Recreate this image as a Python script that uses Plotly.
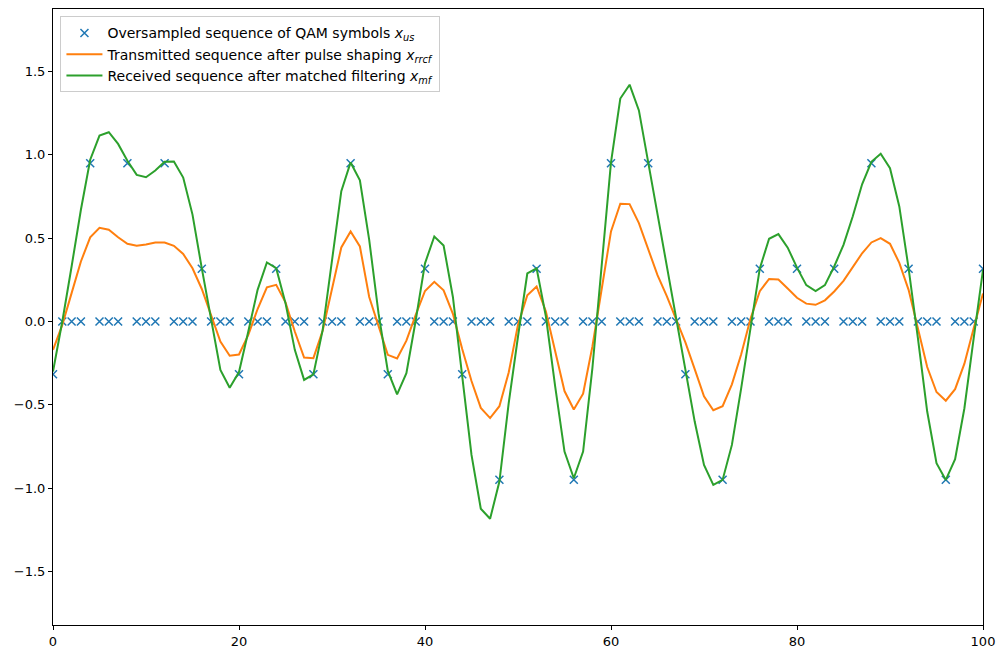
import plotly.graph_objects as go

n = list(range(101))

x_us = [-0.316, 0, 0, 0, 0.949, 0, 0, 0, 0.949, 0, 0, 0, 0.949, 0, 0, 0,
        0.316, 0, 0, 0, -0.316, 0, 0, 0, 0.316, 0, 0, 0, -0.316, 0, 0, 0,
        0.949, 0, 0, 0, -0.316, 0, 0, 0, 0.316, 0, 0, 0, -0.316, 0, 0, 0,
        -0.949, 0, 0, 0, 0.316, 0, 0, 0, -0.949, 0, 0, 0, 0.949, 0, 0, 0,
        0.949, 0, 0, 0, -0.316, 0, 0, 0, -0.949, 0, 0, 0, 0.316, 0, 0, 0,
        0.316, 0, 0, 0, 0.316, 0, 0, 0, 0.949, 0, 0, 0, 0.316, 0, 0, 0,
        -0.949, 0, 0, 0, 0.316]

x_rrcf = [-0.17, -0.02, 0.17, 0.36, 0.505, 0.562, 0.55, 0.505, 0.466, 0.454,
          0.462, 0.474, 0.474, 0.454, 0.405, 0.319, 0.195, 0.04, -0.12, -0.205,
          -0.198, -0.08, 0.075, 0.205, 0.22, 0.115, -0.06, -0.216, -0.22, -0.054,
          0.187, 0.444, 0.54, 0.45, 0.147, -0.034, -0.2, -0.222, -0.115, 0.04,
          0.183, 0.238, 0.187, 0.046, -0.165, -0.357, -0.518, -0.579, -0.508, -0.306,
          -0.02, 0.157, 0.21, 0.06, -0.17, -0.417, -0.528, -0.433, -0.15, 0.2,
          0.54, 0.706, 0.704, 0.59, 0.43, 0.278, 0.152, 0.01, -0.125, -0.286,
          -0.448, -0.532, -0.508, -0.377, -0.196, 0.016, 0.182, 0.255, 0.252, 0.198,
          0.142, 0.107, 0.10, 0.127, 0.18, 0.244, 0.329, 0.409, 0.474, 0.5,
          0.466, 0.352, 0.19, -0.045, -0.273, -0.423, -0.475, -0.406, -0.253, -0.04,
          0.168]

x_mf = [-0.3, 0.0, 0.33, 0.67, 0.97, 1.115, 1.135, 1.065, 0.964, 0.879,
        0.865, 0.905, 0.958, 0.96, 0.863, 0.641, 0.319, 0.02, -0.29, -0.397,
        -0.303, -0.06, 0.19, 0.354, 0.32, 0.11, -0.17, -0.35, -0.317, -0.05,
        0.37, 0.782, 0.954, 0.847, 0.49, 0.05, -0.296, -0.437, -0.31, 0.006,
        0.349, 0.51, 0.456, 0.147, -0.327, -0.80, -1.123, -1.183, -0.96, -0.49,
        -0.09, 0.288, 0.319, 0.03, -0.39, -0.78, -0.94, -0.78, -0.28, 0.325,
        0.954, 1.337, 1.42, 1.266, 0.954, 0.65, 0.33, 0.026, -0.306, -0.6,
        -0.86, -0.98, -0.95, -0.74, -0.4, -0.03, 0.318, 0.496, 0.524, 0.443,
        0.323, 0.218, 0.182, 0.218, 0.33, 0.46, 0.631, 0.823, 0.958, 1.006,
        0.919, 0.69, 0.319, -0.1, -0.54, -0.85, -0.95, -0.825, -0.52, -0.1,
        0.31]

y_ticks = [-1.5, -1.0, -0.5, 0.0, 0.5, 1.0, 1.5]
y_tick_text = ["\u22121.5", "\u22121.0", "\u22120.5", "0.0", "0.5", "1.0", "1.5"]
x_ticks = [0, 20, 40, 60, 80, 100]

fig = go.Figure()
fig.add_trace(go.Scatter(
    x=n, y=x_us, mode="markers",
    name="Oversampled sequence of QAM symbols <i>x</i><sub><i>us</i></sub>",
    marker=dict(symbol="x-thin", size=8, color="#1f77b4",
                line=dict(width=1.5, color="#1f77b4")),
))
fig.add_trace(go.Scatter(
    x=n, y=x_rrcf, mode="lines",
    name="Transmitted sequence after pulse shaping <i>x</i><sub><i>rrcf</i></sub>",
    line=dict(color="#ff7f0e", width=2),
))
fig.add_trace(go.Scatter(
    x=n, y=x_mf, mode="lines",
    name="Received sequence after matched filtering <i>x</i><sub><i>mf</i></sub>",
    line=dict(color="#2ca02c", width=2),
))

axis_common = dict(
    showgrid=False, zeroline=False, showline=True, linecolor="black",
    linewidth=1, mirror=True, ticks="outside", ticklen=4, tickwidth=1,
    tickcolor="black", tickfont=dict(size=13, color="black"),
)

fig.update_layout(
    width=1006, height=659,
    margin=dict(l=53, r=23, t=9, b=34),
    paper_bgcolor="white", plot_bgcolor="white",
    font=dict(family="DejaVu Sans", size=13, color="black"),
    xaxis=dict(range=[0, 100], tickvals=x_ticks, **axis_common),
    yaxis=dict(range=[-1.82, 1.874], tickvals=y_ticks, ticktext=y_tick_text,
               **axis_common),
    legend=dict(x=0.008, y=0.988, xanchor="left", yanchor="top",
                bgcolor="rgba(255,255,255,0.8)", bordercolor="#cccccc",
                borderwidth=1, font=dict(size=14), itemwidth=36),
    showlegend=True,
)

fig.write_html("out.html")
